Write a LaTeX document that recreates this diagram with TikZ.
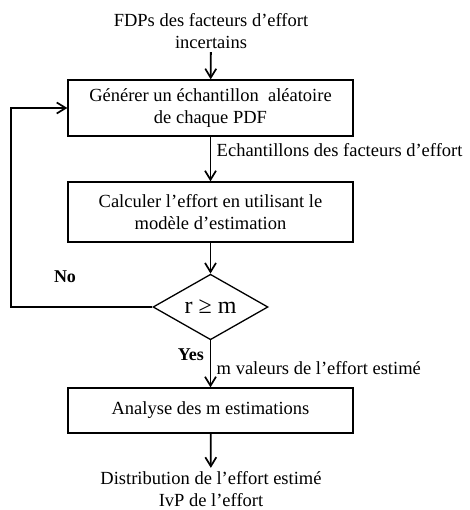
\documentclass[tikz,border=0pt]{standalone}
\usepackage{fontspec}
\setmainfont{Liberation Serif}
\usetikzlibrary{arrows,arrows.meta}
\usetikzlibrary{shapes.geometric}
\tikzset{bx/.style={draw,line width=1.3pt,minimum width=285pt,align=center,inner sep=0pt}}
\tikzset{ar/.style={{Straight Barb[length=9pt,width=11pt,line width=1.7pt]}-,line width=1.8pt}}
\tikzset{l/.style={font=\fontsize{18.5}{22}\selectfont}}
\tikzset{lb/.style={font=\fontsize{18}{22}\selectfont\bfseries}}

\begin{document}
\begin{tikzpicture}[x=1pt,y=-1pt]
        \useasboundingbox (0,0) rectangle (469,510);
        \begin{scope}[l]
          \node[align=center] (in) at (211,31) {FDPs des facteurs d’effort\\incertains};
          \node[bx,minimum height=56pt] (gen) at (210.5,108) {Générer un échantillon\ \ aléatoire\\de chaque PDF}
            edge [ar] (in);
          \node[bx,minimum height=60pt] (calc) at (210.5,212) {Calculer l’effort en utilisant le\\modèle d’estimation}
            edge [ar] node [l, right, pos=0.7, xshift=2pt] {Echantillons des facteurs d’effort} (gen);
          \node[draw,diamond,line width=1.3pt,minimum width=115pt,minimum height=62pt,inner sep=0pt,
                font=\fontsize{24}{24}\selectfont] (test) at (210.5,307) {r ≥ m}
            edge [ar] (calc);
          \node[bx,minimum height=45pt] (ana) at (210.5,410.5) {Analyse des m estimations}
            edge [ar] node [l, right, pos=0.42, xshift=2pt] {m valeurs de l’effort estimé} (test)
            edge [draw=none] node [lb, left, pos=0.7, xshift=-3pt] {Yes} (test);
          \node[align=center] (out) at (211,489) {Distribution de l’effort estimé\\IvP de l’effort}
            edge [ar] (ana);
          \draw[ar] (gen.west) -- ++(-56,0) |- (test.west);
          \node[lb] (no) at (65,277) {No};
        \end{scope}
      \end{tikzpicture}
\end{document}
